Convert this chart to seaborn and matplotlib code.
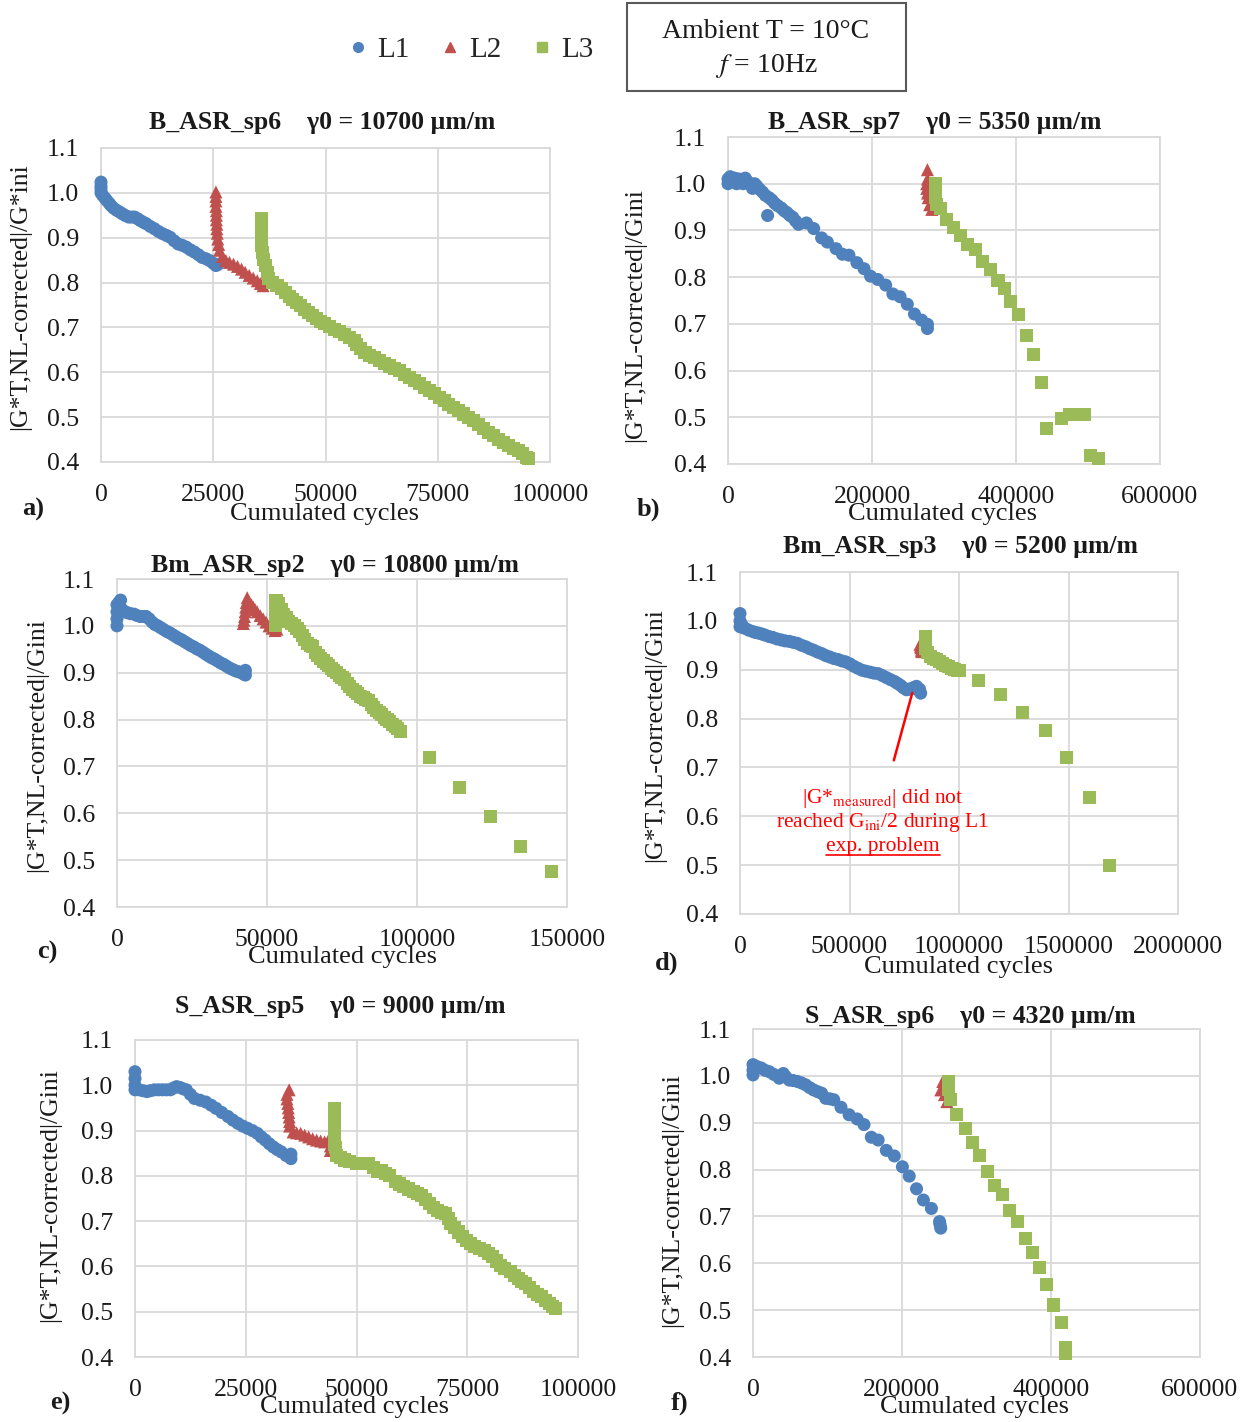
import matplotlib
matplotlib.use("Agg")
import matplotlib.pyplot as plt
from matplotlib.lines import Line2D
from matplotlib.patches import Rectangle
import pandas as pd
import seaborn as sns

# ---- data: (cumulated cycles, |G*T,NL-corrected|/Gini) ----
a_L1 = [(0, 1.024), (0, 1.015), (0, 1.008), (0, 1.0), (400, 0.994), (900, 0.988), (1300, 0.983), (1800, 0.977),
        (2200, 0.972), (2800, 0.966), (3500, 0.961), (4200, 0.957), (4800, 0.953), (5500, 0.949), (6200, 0.946),
        (6900, 0.946), (7500, 0.946), (8200, 0.942), (8800, 0.938), (9500, 0.934), (10100, 0.931), (11000, 0.925),
        (11900, 0.920), (12800, 0.914), (13700, 0.909), (14600, 0.905), (15400, 0.901), (16300, 0.893),
        (17200, 0.886), (18100, 0.883), (19000, 0.879), (19900, 0.873), (20800, 0.868), (21700, 0.862),
        (22500, 0.856), (23400, 0.853), (24200, 0.849), (25000, 0.843), (25600, 0.838), (26000, 0.840)]
a_L2 = [(25600, 1.002), (25600, 0.992), (25600, 0.982), (25600, 0.97), (25700, 0.96), (25700, 0.95),
        (25700, 0.94), (25800, 0.93), (25800, 0.92), (25900, 0.91), (26000, 0.897), (26200, 0.885),
        (26400, 0.872), (27000, 0.858), (27800, 0.849), (28600, 0.845), (29500, 0.841),
        (30400, 0.836), (31300, 0.830), (32100, 0.823), (33000, 0.816), (33900, 0.810), (34800, 0.804),
        (35500, 0.798), (36100, 0.793)]
a_L3 = [(35700, 0.943), (35700, 0.93), (35700, 0.918), (35700, 0.905), (35800, 0.894), (35800, 0.882),
        (35900, 0.868), (36100, 0.852),
        (36600, 0.838), (37000, 0.823), (37400, 0.808), (38300, 0.800), (39200, 0.793), (40100, 0.786),
        (41000, 0.778), (41900, 0.770), (42700, 0.763), (43600, 0.756), (44500, 0.749), (45400, 0.741),
        (46300, 0.734), (47200, 0.727), (48000, 0.719), (48900, 0.713), (49800, 0.708), (50900, 0.702),
        (52000, 0.696), (53100, 0.691), (54200, 0.685), (55300, 0.678), (56400, 0.670), (57000, 0.661),
        (57700, 0.652), (58800, 0.645), (59900, 0.637), (61000, 0.632), (62100, 0.626), (63200, 0.620),
        (64300, 0.614), (65400, 0.609), (66500, 0.603), (67600, 0.596), (68700, 0.588), (69800, 0.581),
        (70900, 0.574), (72000, 0.567), (73100, 0.559), (74200, 0.552), (75300, 0.544), (76400, 0.537),
        (77500, 0.529), (78600, 0.522), (79700, 0.514), (80800, 0.507), (81900, 0.499), (83000, 0.492),
        (84100, 0.484), (85200, 0.475), (86300, 0.466), (87400, 0.459), (88500, 0.451), (89600, 0.444),
        (90700, 0.436), (91800, 0.431), (92900, 0.425), (93800, 0.418), (94700, 0.410), (95300, 0.408)]

b_L1 = [(0, 1.0), (0, 1.01), (3000, 1.015), (6000, 1.005), (9000, 1.012), (12000, 1.0), (15000, 1.01),
        (18000, 1.005), (21000, 1.0), (24000, 1.012), (27000, 1.005), (30000, 1.0), (34000, 0.99), (37000, 1.0),
        (40000, 0.995), (44000, 0.988), (48000, 0.982), (52000, 0.975), (55000, 0.932), (57000, 0.97),
        (61000, 0.965), (65000, 0.958), (69000, 0.953), (74000, 0.948), (78000, 0.942), (82000, 0.938),
        (86000, 0.932), (90000, 0.928), (94000, 0.92), (98000, 0.913), (109000, 0.916), (119000, 0.904),
        (130000, 0.884), (138000, 0.875), (150000, 0.861), (159000, 0.849), (168000, 0.847), (179000, 0.831),
        (189000, 0.818), (198000, 0.802), (208000, 0.795), (219000, 0.783), (229000, 0.764), (239000, 0.758),
        (249000, 0.742), (259000, 0.721), (269000, 0.708), (277000, 0.699), (277000, 0.69)]
b_L2 = [(277000, 1.03), (277000, 1.01), (276000, 1.0), (276000, 0.99), (277000, 0.98), (278000, 0.97),
        (280000, 0.955), (283000, 0.945)]
b_L3 = [(288000, 1.0), (288000, 0.985), (288000, 0.97), (289000, 0.955), (295000, 0.947), (303000, 0.923),
        (313000, 0.906), (323000, 0.89), (333000, 0.87), (344000, 0.859), (354000, 0.833), (364000, 0.816),
        (375000, 0.792), (384000, 0.776), (393000, 0.747), (404000, 0.721), (414000, 0.676), (424000, 0.635),
        (435000, 0.575), (443000, 0.476), (463000, 0.498), (474000, 0.507), (485000, 0.507), (495000, 0.507),
        (504000, 0.419), (515000, 0.412)]

c_L1 = [(0, 1.0), (0, 1.015), (0, 1.03), (0, 1.045), (600, 1.05), (1200, 1.055), (1700, 1.035), (2500, 1.03),
        (3500, 1.028), (4500, 1.026), (5700, 1.025), (6700, 1.022), (7700, 1.02), (8700, 1.02), (9700, 1.02),
        (10700, 1.015), (11700, 1.008), (12600, 1.003), (13600, 1.0), (14600, 0.996), (15600, 0.992),
        (16600, 0.988), (17600, 0.985), (18600, 0.981), (19600, 0.977), (20600, 0.973), (21600, 0.97),
        (22600, 0.966), (23600, 0.962), (24600, 0.958), (25600, 0.955), (26600, 0.951), (27600, 0.948),
        (28600, 0.944), (29500, 0.94), (30500, 0.936), (31500, 0.932), (32500, 0.929), (33500, 0.925),
        (34500, 0.921), (35500, 0.918), (36500, 0.914), (37500, 0.91), (38500, 0.907), (39500, 0.904),
        (40500, 0.902), (41500, 0.9), (42200, 0.897), (42800, 0.895), (42800, 0.905)]
c_L2 = [(42100, 1.005), (42300, 1.012), (42500, 1.02), (42700, 1.03), (42900, 1.04), (43100, 1.05),
        (43400, 1.06), (44100, 1.05), (44800, 1.045),
        (45400, 1.04), (46000, 1.035), (46700, 1.03), (47700, 1.022), (48700, 1.015), (49700, 1.008),
        (50700, 1.0), (51700, 0.995), (52700, 0.99), (53300, 0.993)]
c_L3 = [(52700, 1.0), (52700, 1.02), (52700, 1.04), (53000, 1.055), (53700, 1.048), (54700, 1.035),
        (55600, 1.025), (56500, 1.017), (57300, 1.01), (58200, 1.005), (59100, 1.0), (60000, 0.995),
        (60900, 0.987), (61700, 0.979), (62600, 0.97), (63500, 0.963), (64400, 0.959), (65300, 0.955),
        (66100, 0.943), (67000, 0.937), (67900, 0.93), (68800, 0.925), (69700, 0.92), (70600, 0.915),
        (71500, 0.91), (72300, 0.905), (73200, 0.9), (74100, 0.895), (75000, 0.89), (75900, 0.885),
        (76800, 0.877), (77600, 0.871), (78500, 0.865), (79400, 0.86), (80300, 0.855), (81200, 0.85),
        (82100, 0.847), (82900, 0.843), (83800, 0.84), (84700, 0.833), (85600, 0.826), (86500, 0.82),
        (87400, 0.815), (88200, 0.81), (89100, 0.805), (90000, 0.8), (90900, 0.795), (91800, 0.79),
        (92700, 0.785), (93500, 0.78), (94400, 0.775), (104300, 0.719), (114300, 0.656), (124500, 0.593),
        (134400, 0.530), (144700, 0.476)]

d_L1 = [(0, 1.015), (0, 1.0), (0, 0.988), (8000, 0.992), (15000, 0.986), (22000, 0.985), (40000, 0.981),
        (59000, 0.978), (72000, 0.976), (85000, 0.975), (100000, 0.973), (114000, 0.971), (132000, 0.968),
        (150000, 0.966), (169000, 0.963), (188000, 0.961), (206000, 0.959), (225000, 0.958), (243000, 0.956),
        (262000, 0.954), (281000, 0.95), (300000, 0.947), (318000, 0.943), (336000, 0.94), (355000, 0.936),
        (373000, 0.933), (391000, 0.929), (410000, 0.926), (428000, 0.923), (447000, 0.921), (465000, 0.918),
        (483000, 0.916), (502000, 0.912), (520000, 0.907), (538000, 0.903), (557000, 0.899), (575000, 0.897),
        (594000, 0.895), (612000, 0.893), (631000, 0.892), (650000, 0.888), (668000, 0.884), (686000, 0.88),
        (705000, 0.876), (719000, 0.872), (733000, 0.868), (746000, 0.863), (760000, 0.859), (772000, 0.86),
        (785000, 0.862), (796000, 0.864), (806000, 0.866), (815000, 0.858), (825000, 0.852), (820000, 0.86)]
d_L2 = [(822000, 0.952), (824000, 0.948), (826000, 0.945), (828000, 0.94), (830000, 0.937)]
d_L3 = [(849000, 0.967), (849000, 0.955), (849000, 0.943), (858000, 0.935), (871000, 0.927), (885000, 0.923),
        (898000, 0.92), (912000, 0.916), (926000, 0.913), (940000, 0.909), (954000, 0.906), (968000, 0.903),
        (981000, 0.9), (992000, 0.898), (1000000, 0.898), (1089000, 0.877), (1188000, 0.849), (1290000, 0.812),
        (1393000, 0.775), (1493000, 0.72), (1594000, 0.639), (1688000, 0.5)]

e_L1 = [(0, 1.03), (0, 1.015), (0, 1.0), (0, 0.99), (900, 0.99), (1800, 0.988), (2700, 0.986), (3500, 0.988),
        (4400, 0.99), (5300, 0.99), (6200, 0.99), (7100, 0.99), (8000, 0.99), (8700, 0.994), (9400, 0.997),
        (10200, 0.995), (10900, 0.992), (11600, 0.99), (12500, 0.98), (13400, 0.971), (14700, 0.967),
        (16000, 0.963), (17200, 0.956), (18300, 0.949), (19600, 0.94), (21000, 0.931), (22100, 0.923),
        (23200, 0.916), (24300, 0.91), (25400, 0.905), (26500, 0.9), (27600, 0.894), (28500, 0.886),
        (29400, 0.879), (30300, 0.871), (31200, 0.864), (32100, 0.858), (33000, 0.853), (34100, 0.845),
        (35200, 0.838), (35200, 0.848)]
e_L2 = [(34800, 0.99), (34300, 0.98), (34300, 0.97), (34500, 0.96), (34600, 0.95), (34700, 0.94),
        (34800, 0.93), (34900, 0.92), (34900, 0.91),
        (35700, 0.897), (36500, 0.895), (37400, 0.894), (38300, 0.89), (39200, 0.886), (40100, 0.882),
        (41000, 0.879), (41900, 0.877), (42800, 0.875), (43700, 0.879), (44100, 0.866), (44100, 0.856)]
e_L3 = [(45000, 0.949), (45000, 0.938), (45000, 0.927), (45000, 0.916), (45000, 0.905), (45000, 0.893),
        (45000, 0.879), (45100, 0.87), (45200, 0.862),
        (45500, 0.846), (46300, 0.84), (47200, 0.835), (48500, 0.831), (49900, 0.827), (51200, 0.827),
        (52600, 0.827), (53900, 0.818), (54800, 0.81), (55700, 0.812), (56600, 0.806), (57500, 0.801),
        (58800, 0.787), (59700, 0.782), (60600, 0.776), (61700, 0.771), (62800, 0.765), (63700, 0.761),
        (64600, 0.757), (65500, 0.748), (66400, 0.739), (67300, 0.731), (68200, 0.724), (69100, 0.72),
        (70000, 0.717), (70700, 0.706), (71300, 0.695), (72200, 0.685), (73100, 0.676), (74000, 0.667),
        (74900, 0.658), (75800, 0.65), (76600, 0.643), (77700, 0.64), (78900, 0.636), (79800, 0.628),
        (80700, 0.621), (81500, 0.612), (82400, 0.603), (83500, 0.595), (84700, 0.588), (85600, 0.58),
        (86500, 0.573), (87300, 0.567), (88200, 0.562), (89100, 0.553), (90000, 0.544), (90900, 0.538),
        (91800, 0.533), (92700, 0.525), (93600, 0.518), (94300, 0.512), (94900, 0.507)]

f_L1 = [(0, 1.024), (0, 1.012), (0, 1.002), (5000, 1.02), (10800, 1.017), (16000, 1.012), (21700, 1.009),
        (28000, 1.003), (35200, 0.995), (40600, 1.005), (44000, 0.998), (48800, 0.991), (54000, 0.99),
        (59600, 0.988), (65000, 0.985), (70500, 0.981), (76000, 0.975), (81300, 0.97), (87000, 0.966),
        (92100, 0.963), (97600, 0.952), (103000, 0.951), (108400, 0.949), (118100, 0.933), (129000, 0.917),
        (139800, 0.908), (149000, 0.896), (158800, 0.869), (168000, 0.863), (178900, 0.841), (189700, 0.829),
        (200500, 0.806), (209700, 0.786), (219500, 0.759), (228700, 0.735), (239500, 0.717), (250400, 0.689),
        (252000, 0.675), (251000, 0.683)]
f_L2 = [(252000, 0.97), (254700, 0.988), (257000, 0.96), (260200, 0.945)]
f_L3 = [(262900, 0.988), (262900, 0.97), (264500, 0.949), (273700, 0.918), (284600, 0.888), (294300, 0.857),
        (304600, 0.829), (315400, 0.795), (324100, 0.765), (334400, 0.746), (344200, 0.712), (355000, 0.689),
        (365900, 0.653), (375100, 0.622), (384900, 0.590), (394100, 0.555), (403900, 0.511), (414700, 0.473),
        (420100, 0.421), (420100, 0.407)]

loads = ["L1", "L2", "L3"]
colors = {"L1": "#4F81BD", "L2": "#C0504D", "L3": "#9BBB59"}
markers = {"L1": "o", "L2": "^", "L3": "s"}

titles = ["B_ASR_sp6    \u03b30 = 10700 \u00b5m/m", "B_ASR_sp7    \u03b30 = 5350 \u00b5m/m",
          "Bm_ASR_sp2    \u03b30 = 10800 \u00b5m/m", "Bm_ASR_sp3    \u03b30 = 5200 \u00b5m/m",
          "S_ASR_sp5    \u03b30 = 9000 \u00b5m/m", "S_ASR_sp6    \u03b30 = 4320 \u00b5m/m"]
ylabels = ["|G*T,NL-corrected|/G*ini"] + ["|G*T,NL-corrected|/Gini"] * 5
letters = ["a)", "b)", "c)", "d)", "e)", "f)"]
xticks_100k = [0, 25000, 50000, 75000, 100000]
xticks_600k = [0, 200000, 400000, 600000]
xticks_150k = [0, 50000, 100000, 150000]
xticks_2m = [0, 500000, 1000000, 1500000, 2000000]
yticks = [0.4, 0.5, 0.6, 0.7, 0.8, 0.9, 1.0, 1.1]

# ---- layout (pixels of the 1253x1422 canvas) ----
W, H = 1253, 1422
layout = [
    # axes box l,t,r,b | title xy | ylabel xy | xlabel xy | letter xy
    dict(box=(101, 148, 550, 462), title=(322, 123), yl=(20, 297), xl=(325, 514), let=(33, 509)),
    dict(box=(728, 137, 1160, 464), title=(935, 123), yl=(635, 315), xl=(943, 514), let=(648, 509)),
    dict(box=(117, 579, 567, 907), title=(335, 565), yl=(37, 745), xl=(342, 957), let=(47, 952)),
    dict(box=(740, 572, 1178, 914), title=(960, 547), yl=(655, 735), xl=(958, 967), let=(667, 963)),
    dict(box=(135, 1040, 578, 1357), title=(340, 1007), yl=(50, 1195), xl=(355, 1407), let=(60, 1403)),
    dict(box=(753, 1029, 1200, 1357), title=(970, 1016), yl=(672, 1200), xl=(975, 1407), let=(680, 1403)),
]
series = [(a_L1, a_L2, a_L3), (b_L1, b_L2, b_L3), (c_L1, c_L2, c_L3),
          (d_L1, d_L2, d_L3), (e_L1, e_L2, e_L3), (f_L1, f_L2, f_L3)]
xticks = [xticks_100k, xticks_600k, xticks_150k, xticks_2m, xticks_100k, xticks_600k]


def fx(x):
    return x / W


def fy(y):
    return 1 - y / H


def to_frame(parts):
    rows = []
    for name, pts in zip(loads, parts):
        for x, y in pts:
            rows.append({"cycles": x, "ratio": y, "load": name})
    return pd.DataFrame(rows)


sns.set_theme(style="white")
plt.rcParams["font.family"] = ["Liberation Serif", "DejaVu Serif"]
plt.rcParams["mathtext.fontset"] = "stix"

fig = plt.figure(figsize=(W / 100, H / 100), dpi=100)
axes = []
for i in range(6):
    lay = layout[i]
    l, t, r, b = lay["box"]
    ax = fig.add_axes([fx(l), fy(b), (r - l) / W, (b - t) / H])
    df = to_frame(series[i])
    sns.scatterplot(data=df, x="cycles", y="ratio", hue="load", style="load",
                    hue_order=loads, style_order=loads, palette=colors, markers=markers,
                    s=88, linewidth=0, legend=False, ax=ax, clip_on=False, zorder=3)
    ax.set_xlim(0, xticks[i][-1])
    ax.set_ylim(0.4, 1.1)
    ax.set_xticks(xticks[i])
    ax.set_xticklabels([str(v) for v in xticks[i]])
    ax.set_yticks(yticks)
    ax.set_yticklabels(["%.1f" % v for v in yticks])
    ax.grid(True, color="#D9D9D9", linewidth=1.3)
    ax.set_axisbelow(True)
    for sp in ax.spines.values():
        sp.set_color("#D9D9D9")
        sp.set_linewidth(1.3)
    ax.tick_params(axis="both", length=0, labelsize=18.5, colors="#1a1a1a")
    ax.tick_params(axis="x", pad=16)
    ax.tick_params(axis="y", pad=16)

    ax.set_xlabel("Cumulated cycles", fontsize=19, color="#1a1a1a")
    ax.xaxis.set_label_coords(fx(lay["xl"][0]), fy(lay["xl"][1]), transform=fig.transFigure)
    ax.xaxis.label.set_va("center")
    ax.set_ylabel(ylabels[i], fontsize=18.5, color="#1a1a1a")
    ax.yaxis.set_label_coords(fx(lay["yl"][0]), fy(lay["yl"][1]), transform=fig.transFigure)
    ax.yaxis.label.set_va("center")

    fig.text(fx(lay["title"][0]), fy(lay["title"][1]), titles[i], ha="center", va="center",
             fontsize=18.5, fontweight="bold", color="#1a1a1a")
    fig.text(fx(lay["let"][0]), fy(lay["let"][1]), letters[i], ha="center", va="center",
             fontsize=19, fontweight="bold", color="#1a1a1a")
    axes.append(ax)

# annotation in panel d
ax_d = axes[3]
ax_d.annotate("", xy=(790000, 0.858), xytext=(699000, 0.709),
              arrowprops=dict(arrowstyle="-", color="#FF0000", lw=1.8))
note_kw = dict(ha="center", va="center", fontsize=15.5, color="#FF0000")
fig.text(fx(883), fy(799), r"|G*$_{\mathrm{measured}}$| did not", **note_kw)
fig.text(fx(883), fy(823), r"reached G$_{\mathrm{ini}}$/2 during L1", **note_kw)
t3 = fig.text(fx(883), fy(847), "exp. problem", **note_kw)
fig.canvas.draw()
bb = t3.get_window_extent().transformed(fig.transFigure.inverted())
fig.add_artist(Line2D([bb.x0, bb.x1], [bb.y0 + 0.001, bb.y0 + 0.001], transform=fig.transFigure,
                      color="#FF0000", lw=1.2))

# legend and condition box at the top
handles = [Line2D([], [], marker=markers[k], ls="", color=colors[k], markersize=7) for k in loads]
fig.legend(handles, loads, loc="center", bbox_to_anchor=(fx(470), fy(50)), ncol=3, frameon=False,
           fontsize=21, handletextpad=0.25, columnspacing=1.0, handlelength=0.8)
fig.add_artist(Rectangle((fx(627), fy(91)), (906 - 627) / W, 88 / H, transform=fig.transFigure,
                         fill=False, edgecolor="#595959", lw=1.5))
fig.text(fx(766), fy(31), "Ambient T = 10\u00b0C", ha="center", va="center", fontsize=20, color="#1a1a1a")
fig.text(fx(766), fy(66), r"$\mathit{f}$ = 10Hz", ha="center", va="center", fontsize=20, color="#1a1a1a")

fig.savefig("out.png", dpi=100)
